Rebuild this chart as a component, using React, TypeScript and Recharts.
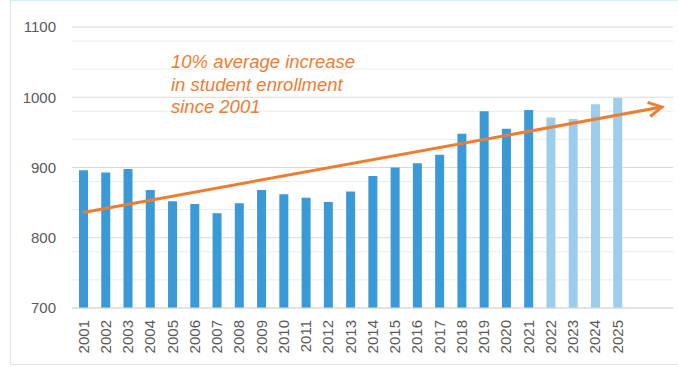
import React from 'react'
import { ComposedChart, Bar, Line, Cell, XAxis, YAxis, CartesianGrid } from 'recharts'

// school years on the x axis; the last two are empty slots so the trend arrow can run past 2025
const years = [
  '2001', '2002', '2003', '2004', '2005', '2006', '2007', '2008', '2009', '2010',
  '2011', '2012', '2013', '2014', '2015', '2016', '2017', '2018', '2019', '2020',
  '2021', '2022', '2023', '2024', '2025', '', '',
]

const enrollment = [
  896, 893, 898, 868, 852, 848, 835, 849, 868, 862,
  857, 851, 866, 888, 900, 906, 918, 948, 980, 955,
  982, 971, 969, 990, 999, null, null,
]

// projected years are drawn lighter
const projected = [
  false, false, false, false, false, false, false, false, false, false,
  false, false, false, false, false, false, false, false, false, false,
  false, true, true, true, true, false, false,
]

// straight trend line, start and end only
const trend = [
  836, null, null, null, null, null, null, null, null, null,
  null, null, null, null, null, null, null, null, null, null,
  null, null, null, null, null, null, 986,
]

const yTicks = [700, 800, 900, 1000, 1100]
const yMinor = [720, 740, 760, 780, 820, 840, 860, 880, 920, 940, 960, 980, 1020, 1040, 1060, 1080]

const noteLines = ['10% average increase', 'in student enrollment', 'since 2001']

const data = years.map((year, i) => ({
  year,
  enrollment: enrollment[i],
  trend: trend[i],
}))

const ORANGE = '#ED7D31'
const BLUE = '#3A9AD8'
const LIGHT_BLUE = '#9DCDEC'
const TEXT = '#595959'

const YearTick = (props: any) => {
  const { x, y, payload } = props
  return (
    <g transform={`translate(${x},${y})`}>
      <text
        transform="rotate(-90)"
        textAnchor="end"
        dy="0.36em"
        fill={TEXT}
        fontSize={15}
        fontFamily="'Liberation Sans', Arial, sans-serif"
      >
        {payload.value}
      </text>
    </g>
  )
}

const ArrowHead = (props: any) => {
  const { cx, cy, index, points } = props
  if (index !== years.length - 1 || cx == null || cy == null) return <g key={`d-${index}`} />
  let angle = -0.25
  if (Array.isArray(points)) {
    const first = points.find((p: any) => p && p.y != null && p.value != null)
    if (first) angle = Math.atan2(cy - first.y, cx - first.x)
  }
  const len = 15
  const spread = 0.5
  const a1 = angle + Math.PI - spread
  const a2 = angle + Math.PI + spread
  return (
    <polyline
      key={`d-${index}`}
      points={`${cx + len * Math.cos(a1)},${cy + len * Math.sin(a1)} ${cx},${cy} ${cx + len * Math.cos(a2)},${cy + len * Math.sin(a2)}`}
      fill="none"
      stroke={ORANGE}
      strokeWidth={3}
      strokeLinejoin="miter"
    />
  )
}

export default function App() {
  return (
    <div style={{ position: 'absolute', left: 0, top: 0, width: 678, height: 367, background: '#fff' }}>
      <div
        style={{
          position: 'absolute',
          left: 10,
          top: 0,
          width: 668,
          height: 365,
          borderLeft: '1px solid #e3e3e3',
          borderBottom: '1px solid #e3e3e3',
          borderTop: '1px solid #cfeef8',
          boxSizing: 'border-box',
        }}
      />
      <ComposedChart
        width={678}
        height={367}
        data={data}
        margin={{ top: 27, right: 5, left: 0, bottom: 0 }}
        barSize={9}
        style={{ position: 'absolute', left: 0, top: 0 }}
      >
        <CartesianGrid vertical={false} horizontalValues={yMinor} stroke="#ececec" />
        <CartesianGrid vertical={false} horizontalValues={yTicks} stroke="#d9d9d9" />
        <XAxis
          dataKey="year"
          interval={0}
          height={59}
          tickLine={false}
          tickSize={0}
          tickMargin={12}
          axisLine={{ stroke: '#d9d9d9' }}
          tick={<YearTick />}
        />
        <YAxis
          domain={[700, 1100]}
          ticks={yTicks}
          width={72}
          axisLine={false}
          tickLine={false}
          tickSize={0}
          tickMargin={16}
          tick={{ fill: TEXT, fontSize: 15, fontFamily: "'Liberation Sans', Arial, sans-serif" }}
        />
        <Bar dataKey="enrollment" isAnimationActive={false}>
          {data.map((d, i) => (
            <Cell key={d.year + i} fill={projected[i] ? LIGHT_BLUE : BLUE} />
          ))}
        </Bar>
        <Line
          dataKey="trend"
          type="linear"
          connectNulls
          stroke={ORANGE}
          strokeWidth={3}
          dot={(p: any) => <ArrowHead {...p} />}
          activeDot={false}
          isAnimationActive={false}
        />
      </ComposedChart>
      <div
        style={{
          position: 'absolute',
          left: 171,
          top: 51,
          color: ORANGE,
          fontFamily: "'Liberation Sans', Arial, sans-serif",
          fontStyle: 'italic',
          fontSize: 18.5,
          lineHeight: '22.5px',
          whiteSpace: 'nowrap',
        }}
      >
        {noteLines.map((t) => (
          <div key={t}>{t}</div>
        ))}
      </div>
    </div>
  )
}
